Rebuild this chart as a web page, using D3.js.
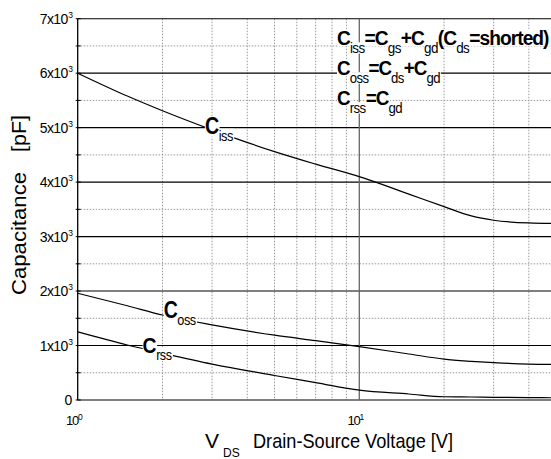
<!DOCTYPE html>
<html>
<head>
<meta charset="utf-8">
<script src="https://cdn.jsdelivr.net/npm/d3@7"></script>
<style>
body{margin:0;background:#fff}
svg{display:block}
text{font-family:"Liberation Sans",Arial,sans-serif;fill:#000}
text.narrow{font-family:"Liberation Sans Narrow","Arial Narrow","Liberation Sans",sans-serif}
</style>
</head>
<body>
<svg></svg>
<script>
// values
const vds  = [1, 1.5, 2, 3, 5, 7, 10, 15, 20, 25, 30, 40, 50];
const ciss = [6000, 5580, 5310, 4960, 4560, 4330, 4100, 3780, 3550, 3380, 3300, 3250, 3240];
const coss = [1960, 1730, 1560, 1380, 1190, 1090, 980, 845, 750, 710, 685, 660, 655];
const crss = [1250, 1010, 860, 660, 450, 320, 180, 110, 60, 55, 50, 45, 40];

const yTicks = [0, 1000, 2000, 3000, 4000, 5000, 6000, 7000];
const yTickLabels = ["0", "1x10", "2x10", "3x10", "4x10", "5x10", "6x10", "7x10"];
const yMinor = [500, 1500, 2500, 3500, 4500, 5500, 6500];
const xTicks = [1, 10];
const xTickLabels = ["10", "10"];
const xTickExp = ["0", "1"];
const xMinor = [2, 3, 4, 5, 6, 7, 8, 9, 20, 30, 40];

const w = 551, h = 459;
const padLeft = 77.7, padTop = 18.7, padBottom = 400;
const decade = 281.6; // px per decade on the x axis

const svg = d3.select("svg").attr("width", w).attr("height", h);

const x = d3.scaleLog().domain([1, 50]).range([padLeft, padLeft + decade * Math.log10(50)]);
const y = d3.scaleLinear().domain([0, 7000]).range([padBottom, padTop]);

// grid - minor dotted first
svg.append("g").selectAll("line").data(yMinor).enter().append("line")
  .attr("x1", padLeft).attr("x2", x(50)).attr("y1", d => y(d)).attr("y2", d => y(d))
  .attr("stroke", "#9a9a9a").attr("stroke-dasharray", "1.5,1.5");
svg.append("g").selectAll("line").data(xMinor).enter().append("line")
  .attr("x1", d => x(d)).attr("x2", d => x(d)).attr("y1", padTop).attr("y2", padBottom)
  .attr("stroke", "#9a9a9a").attr("stroke-dasharray", "1.5,1.5");

// major grid
svg.append("g").selectAll("line").data(yTicks).enter().append("line")
  .attr("x1", padLeft).attr("x2", x(50)).attr("y1", d => y(d)).attr("y2", d => y(d))
  .attr("stroke", "#000").attr("stroke-width", 1.1);
svg.append("line")
  .attr("x1", x(10)).attr("x2", x(10)).attr("y1", padTop).attr("y2", padBottom)
  .attr("stroke", "#666").attr("stroke-width", 1.3);

// left axis + small ticks
svg.append("line").attr("x1", padLeft).attr("x2", padLeft).attr("y1", padTop).attr("y2", padBottom)
  .attr("stroke", "#000").attr("stroke-width", 1.3);
svg.append("g").selectAll("line").data(yTicks.concat(yMinor)).enter().append("line")
  .attr("x1", padLeft - 2).attr("x2", padLeft + 3).attr("y1", d => y(d)).attr("y2", d => y(d))
  .attr("stroke", "#000");

// y tick labels
svg.append("g").selectAll("text").data(yTicks).enter().append("text")
  .attr("x", (d, i) => i === 0 ? padLeft - 6 : padLeft - 10)
  .attr("y", d => y(d) + 5)
  .attr("text-anchor", "end")
  .style("font-size", "14px").style("letter-spacing", "-0.6px")
  .text((d, i) => yTickLabels[i]);
svg.append("g").selectAll("text").data(yTicks.slice(1)).enter().append("text")
  .attr("x", padLeft - 9.5).attr("y", d => y(d) - 1)
  .style("font-size", "8.5px")
  .text("3");

// x tick labels
xTicks.forEach((v, i) => {
  const t = svg.append("text").attr("x", x(v) - 4).attr("y", 425)
    .attr("text-anchor", "middle").style("font-size", "13px").style("letter-spacing", "-1.2px");
  t.append("tspan").text(xTickLabels[i]);
  t.append("tspan").text(xTickExp[i]).attr("dy", -5).style("font-size", "8.5px");
});

// curves
const line = d3.line().x(d => x(d[0])).y(d => y(d[1])).curve(d3.curveMonotoneX);
[ciss, coss, crss].forEach(s => {
  svg.append("path")
    .datum(vds.map((v, i) => [v, s[i]]))
    .attr("d", line)
    .attr("fill", "none").attr("stroke", "#000").attr("stroke-width", 1.2);
});

// rich text with subscripts, squeezed to a width, white box behind each piece
function richText(px, py, parts, opt) {
  const g = svg.append("g").attr("transform", "translate(" + px + "," + py + ")");
  const inner = g.append("g");
  const t = inner.append("text").attr("class", "narrow").attr("x", 0).attr("y", 0);
  let shift = 0;
  parts.forEach(p => {
    const sub = p[1];
    const want = sub ? opt.subDy : 0;
    t.append("tspan").text(p[0])
      .attr("dy", want - shift)
      .style("font-size", (sub ? opt.subSize : opt.size) + "px")
      .style("font-weight", sub ? "normal" : "bold")
      .style("letter-spacing", (sub ? opt.subLs : opt.ls) + "px");
    shift = want;
  });
  const bw = t.node().getBBox().width;
  const sx = opt.width ? opt.width / bw : 1;
  inner.attr("transform", "scale(" + sx + ",1)");
  t.selectAll("tspan").each(function () {
    const b = this.getBBox();
    const pad = this.style.fontWeight === "bold" ? 3 : 2;
    inner.insert("rect", "text")
      .attr("x", b.x).attr("y", b.y + pad).attr("width", b.width + 1).attr("height", b.height - pad * 2)
      .attr("fill", "#fff");
  });
}

const labelOpt = {size: 23, subSize: 15, subDy: 6.5, ls: -0.5, subLs: -0.6};
richText(x(2.83), y(4880), [["C"], ["iss", true]], Object.assign({width: 28}, labelOpt));
richText(x(2.02), y(1500), [["C"], ["oss", true]], Object.assign({width: 32}, labelOpt));
richText(x(1.70), y(860), [["C"], ["rss", true]], Object.assign({width: 29}, labelOpt));

const legOpt = {size: 20, subSize: 14, subDy: 7.5, ls: -1, subLs: -0.6};
richText(337, 45, [["C"], ["iss", true], ["=C"], ["gs", true], ["+C"], ["gd", true], ["(C"], ["ds", true], ["=shorted)"]],
  Object.assign({width: 212}, legOpt));
richText(337, 75, [["C"], ["oss", true], ["=C"], ["ds", true], ["+C"], ["gd", true]],
  Object.assign({width: 103}, legOpt));
richText(337, 105, [["C"], ["rss", true], ["=C"], ["gd", true]],
  Object.assign({width: 65}, legOpt));

// x axis title
svg.append("text").attr("x", 205).attr("y", 448).style("font-size", "21px").text("V");
svg.append("text").attr("x", 223).attr("y", 457).style("font-size", "12px").text("DS");
svg.append("text").attr("class", "narrow").attr("x", 253).attr("y", 448).style("font-size", "21px")
  .attr("textLength", 200).attr("lengthAdjust", "spacingAndGlyphs")
  .text("Drain-Source Voltage [V]");

// y axis title
svg.append("text").attr("transform", "translate(26,233.5) rotate(-90)")
  .attr("text-anchor", "middle").style("font-size", "20px")
  .attr("textLength", 123).attr("lengthAdjust", "spacingAndGlyphs")
  .text("Capacitance");
svg.append("text").attr("transform", "translate(26,133.5) rotate(-90)")
  .attr("text-anchor", "middle").style("font-size", "20px")
  .attr("textLength", 37).attr("lengthAdjust", "spacingAndGlyphs")
  .text("[pF]");
</script>
</body>
</html>
